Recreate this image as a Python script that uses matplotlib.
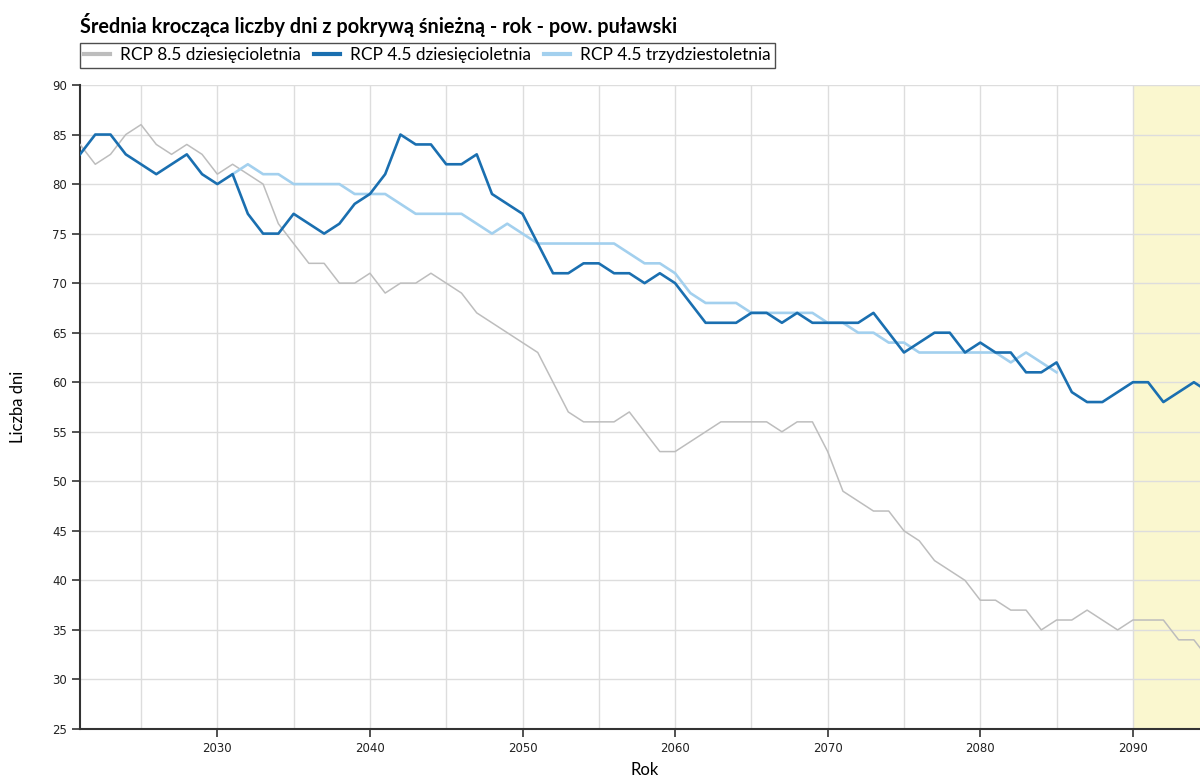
import matplotlib
matplotlib.use("Agg")
import matplotlib.pyplot as plt
from matplotlib.lines import Line2D

# yearly values
years_all = list(range(2021, 2096))

rcp85_dec = [84, 82, 83, 85, 86, 84, 83, 84, 83, 81,
             82, 81, 80, 76, 74, 72, 72, 70, 70, 71,
             69, 70, 70, 71, 70, 69, 67, 66, 65, 64,
             63, 60, 57, 56, 56, 56, 57, 55, 53, 53,
             54, 55, 56, 56, 56, 56, 55, 56, 56, 53,
             49, 48, 47, 47, 45, 44, 42, 41, 40, 38,
             38, 37, 37, 35, 36, 36, 37, 36, 35, 36,
             36, 36, 34, 34, 32]

rcp45_dec = [83, 85, 85, 83, 82, 81, 82, 83, 81, 80,
             81, 77, 75, 75, 77, 76, 75, 76, 78, 79,
             81, 85, 84, 84, 82, 82, 83, 79, 78, 77,
             74, 71, 71, 72, 72, 71, 71, 70, 71, 70,
             68, 66, 66, 66, 67, 67, 66, 67, 66, 66,
             66, 66, 67, 65, 63, 64, 65, 65, 63, 64,
             63, 63, 61, 61, 62, 59, 58, 58, 59, 60,
             60, 58, 59, 60, 59]

years_30 = list(range(2031, 2086))
rcp45_30 = [81, 82, 81, 81, 80, 80, 80, 80, 79, 79,
            79, 78, 77, 77, 77, 77, 76, 75, 76, 75,
            74, 74, 74, 74, 74, 74, 73, 72, 72, 71,
            69, 68, 68, 68, 67, 67, 67, 67, 67, 66,
            66, 65, 65, 64, 64, 63, 63, 63, 63, 63,
            63, 62, 63, 62, 61]

labels = ["RCP 8.5 dziesięcioletnia", "RCP 4.5 dziesięcioletnia", "RCP 4.5 trzydziestoletnia"]
colors = ["#bdbdbd", "#1a6fb0", "#a3d0ee"]

fig = plt.figure(figsize=(12, 7.78), dpi=100)
ax = fig.add_axes([80 / 1200, 1 - 729 / 778, 1 - 80 / 1200, (729 - 85) / 778])

# highlighted period
ax.axvspan(2090, 2100, color="#faf7cf", zorder=0, lw=0)

ax.plot(years_all, rcp85_dec, color=colors[0], lw=1.1, zorder=3, solid_joinstyle="round")
ax.plot(years_30, rcp45_30, color=colors[2], lw=1.9, zorder=4, solid_joinstyle="round")
ax.plot(years_all, rcp45_dec, color=colors[1], lw=1.9, zorder=5, solid_joinstyle="round")

ax.set_xlim(2021, 2094.4)
ax.set_ylim(25, 90)
ax.set_yticks(range(25, 91, 5))
ax.set_xticks(range(2030, 2091, 10))
ax.set_xticks(range(2025, 2095, 5), minor=True)
ax.tick_params(which="minor", length=0)
ax.grid(True, which="both", color="#dddddd", lw=1, zorder=1)
ax.set_axisbelow(True)

for s in ["top", "right"]:
    ax.spines[s].set_visible(False)
for s in ["left", "bottom"]:
    ax.spines[s].set_color("#333333")
    ax.spines[s].set_linewidth(1.5)
ax.tick_params(which="major", direction="out", length=6, width=1.2, color="#333333",
               labelsize=8.5, labelcolor="#222222")
for t in ax.get_xticklabels() + ax.get_yticklabels():
    t.set_family(["Liberation Sans Narrow", "DejaVu Sans"])

fig.text(18 / 1200, 1 - 407 / 778, "Liczba dni", rotation=90, ha="center", va="center",
         fontsize=12, family=["Lato", "DejaVu Sans"])
fig.text(645 / 1200, 1 - 770 / 778, "Rok", ha="center", va="center",
         fontsize=12, family=["Lato", "DejaVu Sans"])

fig.text(80 / 1200, 1 - 25 / 778, "Średnia krocząca liczby dni z pokrywą śnieżną - rok - pow. puławski",
         ha="left", va="center", fontsize=14.3, fontweight="bold", family=["Lato", "DejaVu Sans"])

handles = [Line2D([0], [0], color=c, lw=3) for c in colors]
leg = fig.legend(handles, labels, loc="upper left", bbox_to_anchor=(80 / 1200, 1 - 43 / 778),
                 ncol=3, frameon=True, fancybox=False, edgecolor="#222222",
                 handlelength=1.5, handletextpad=0.55, columnspacing=0.8,
                 borderpad=0.25, borderaxespad=0,
                 prop={"family": ["Lato", "DejaVu Sans"], "size": 12.4})
leg.get_frame().set_linewidth(1.0)

fig.savefig("out.png", dpi=100)
